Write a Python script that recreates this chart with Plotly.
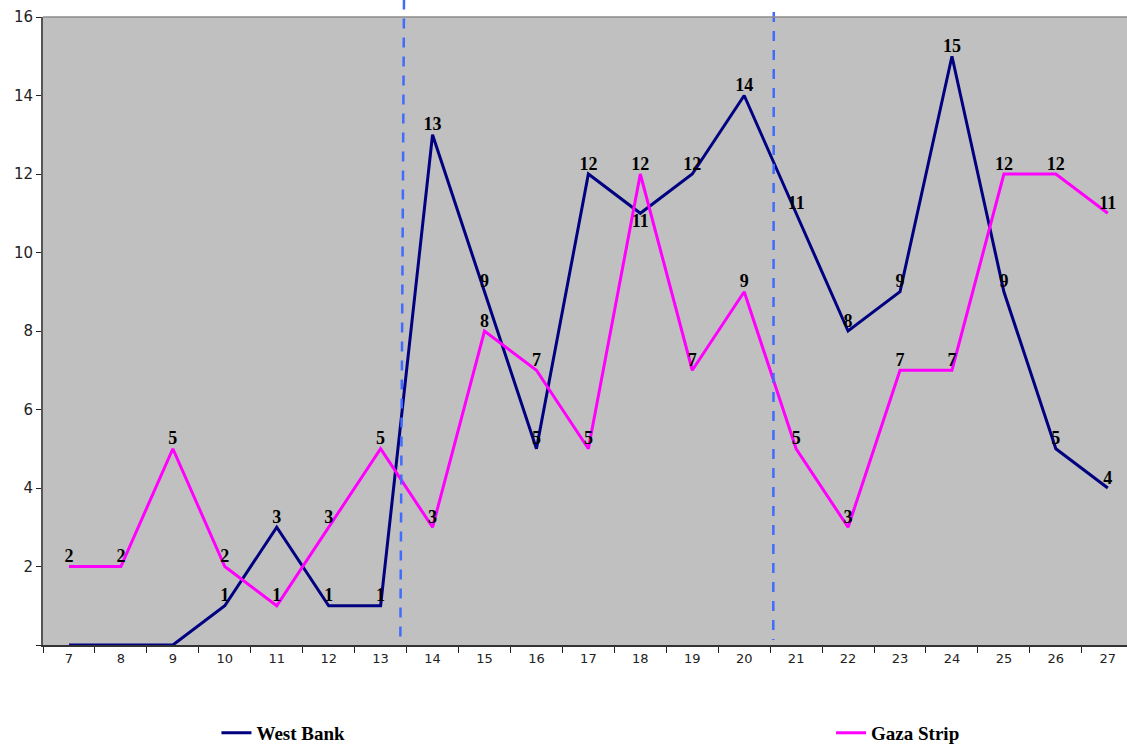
import plotly.graph_objects as go

categories = [str(v) for v in range(7, 28)]
west_bank = [0, 0, 0, 1, 3, 1, 1, 13, 9, 5, 12, 11, 12, 14, 11, 8, 9, 15, 9, 5, 4]
gaza_strip = [2, 2, 5, 2, 1, 3, 5, 3, 8, 7, 5, 12, 7, 9, 5, 3, 7, 7, 12, 12, 11]
event_lines = [6.4, 13.52]  # positions (category index) of the dashed markers

wb_text = [("" if v == 0 else str(v)) for v in west_bank]
wb_pos = ["top center"] * len(west_bank)
wb_pos[categories.index("18")] = "bottom center"
gz_text = [str(v) for v in gaza_strip]

label_font = dict(family="Liberation Serif", size=18, color="black")

fig = go.Figure()
fig.add_trace(go.Scatter(
    x=categories, y=west_bank, name="<b>West Bank</b>", mode="lines+text",
    line=dict(color="#000080", width=3), text=["<b>%s</b>" % t if t else "" for t in wb_text],
    textposition=wb_pos, textfont=label_font, cliponaxis=False, legend="legend"))
fig.add_trace(go.Scatter(
    x=categories, y=gaza_strip, name="<b>Gaza Strip</b>", mode="lines+text",
    line=dict(color="#FF00FF", width=3), text=["<b>%s</b>" % t for t in gz_text],
    textposition="top center", textfont=label_font, cliponaxis=False, legend="legend2"))

for i, xv in enumerate(event_lines):
    fig.add_shape(type="line", xref="x", yref="paper", x0=xv + 0.05, x1=xv - 0.02 if i == 0 else xv + 0.04,
                  y0=1.028 if i == 0 else 1.008, y1=0.008,
                  line=dict(color="#3F6BFF", width=2.5, dash="10px,9px"), layer="above")

legend_style = dict(orientation="h", xanchor="left", y=-0.14, yanchor="middle",
                    bgcolor="rgba(0,0,0,0)",
                    font=dict(family="Liberation Serif", size=19, color="black"))

fig.update_layout(
    width=1127, height=744,
    margin=dict(l=43, r=0, t=17, b=99, autoexpand=False),
    paper_bgcolor="white", plot_bgcolor="#C0C0C0",
    showlegend=True,
    legend=dict(x=0.16, **legend_style),
    legend2=dict(x=0.727, **legend_style),
    xaxis=dict(type="category", range=[-0.5, 20.37], tickson="boundaries",
               ticks="outside", ticklen=6, tickcolor="#222", showgrid=False,
               showline=True, linecolor="#333", linewidth=2, automargin=False,
               tickfont=dict(family="DejaVu Sans", size=13, color="#222")),
    yaxis=dict(range=[0, 16], tickvals=[0, 2, 4, 6, 8, 10, 12, 14, 16],
               ticktext=["", "2", "4", "6", "8", "10", "12", "14", "16"],
               ticks="outside", ticklen=5, tickcolor="#222", showgrid=False,
               showline=True, linecolor="#555", linewidth=2, zeroline=False,
               automargin=False,
               tickfont=dict(family="DejaVu Sans", size=15, color="#222")),
)
fig.add_shape(type="line", xref="paper", yref="paper", x0=0, x1=1, y0=1, y1=1,
              line=dict(color="#8C8C8C", width=1.5))

fig.write_html("out.html", config={"displayModeBar": False},
               post_script="document.body.style.margin='0';document.body.style.overflow='hidden';")
